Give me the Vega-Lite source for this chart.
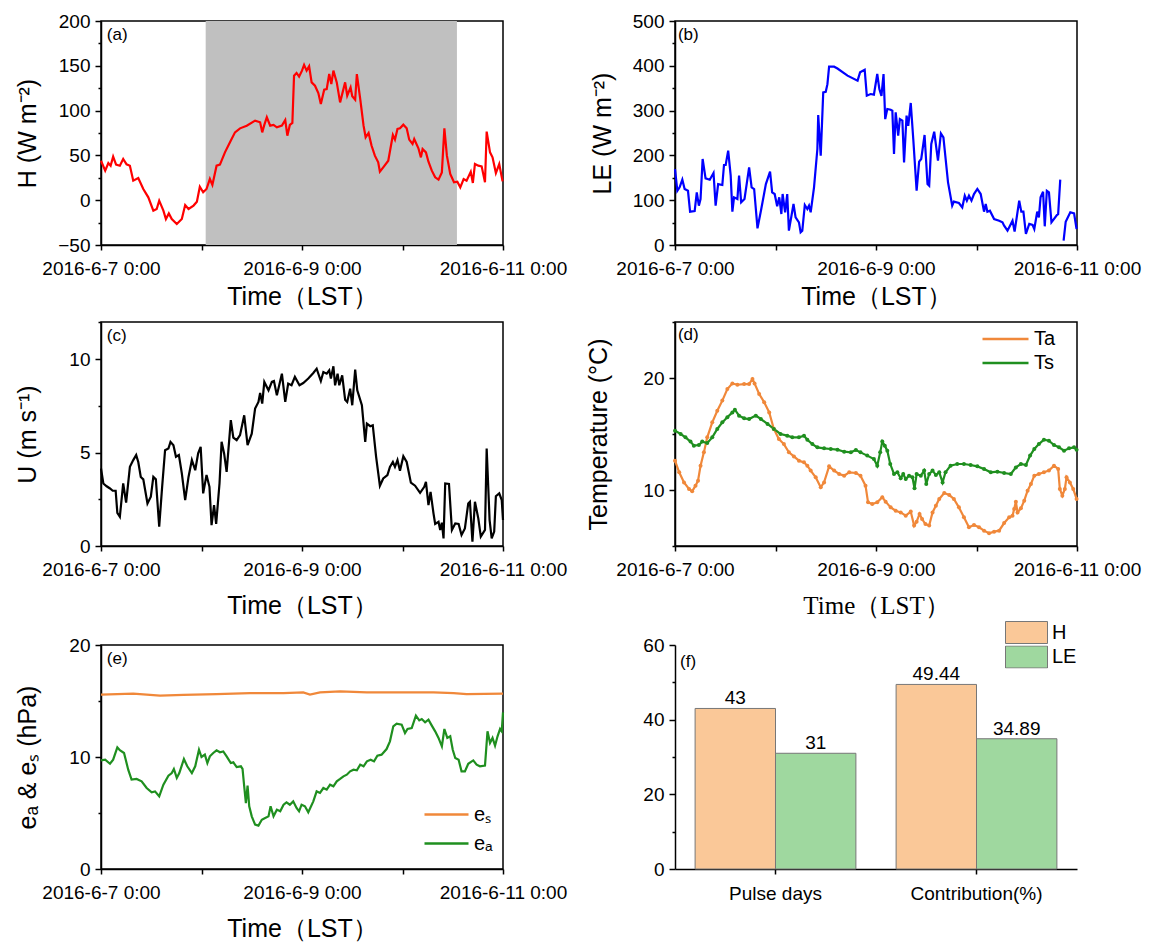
{
 "$schema": "https://vega.github.io/schema/vega-lite/v6.json",
 "padding": {"left": 14, "top": 11, "right": 0, "bottom": 0},
 "background": "white",
 "spacing": 2,
 "resolve": {"scale": {"color": "independent"}, "legend": {"color": "independent"}},
 "config": {
  "font": "Liberation Sans",
  "view": {"stroke": "black", "strokeWidth": 1.5},
  "axis": {"grid": false, "domainColor": "black", "domainWidth": 1.5, "tickColor": "black", "tickWidth": 1.5, "tickSize": 6, "labelColor": "black", "labelFontSize": 19, "labelFont": "Liberation Sans", "titleFont": "Liberation Sans", "titleFontSize": 25, "titleFontWeight": "normal", "titleColor": "black"},
  "axisY": {"labelPadding": 5},
  "axisX": {"labelPadding": 9, "tickSize": 5},
  "legend": {"labelFontSize": 20, "labelColor": "black", "labelFont": "Liberation Sans"}
 },
 "datasets": {
  "H": [{"t":0,"v":44},{"t":1,"v":33},{"t":1.75,"v":41.5},{"t":2.3,"v":38.5},{"t":2.9,"v":48.6},{"t":3.6,"v":39.7},{"t":4.5,"v":38.5},{"t":5.3,"v":46},{"t":6.1,"v":40},{"t":6.9,"v":38.5},{"t":7.7,"v":21.8},{"t":8.9,"v":24.8},{"t":10.1,"v":12.5},{"t":11.3,"v":3.2},{"t":12.5,"v":-11.7},{"t":13.3,"v":-9.8},{"t":13.9,"v":-0.5},{"t":14.9,"v":-11.7},{"t":15.5,"v":-21},{"t":16.2,"v":-14.7},{"t":16.9,"v":-21},{"t":18.1,"v":-26.6},{"t":19.3,"v":-21},{"t":20.1,"v":-5.4},{"t":20.9,"v":-9.8},{"t":22.1,"v":-6},{"t":22.9,"v":-1.6},{"t":23.6,"v":15},{"t":24.4,"v":8.8},{"t":25.2,"v":12.5},{"t":26,"v":23.7},{"t":26.6,"v":17},{"t":27.6,"v":38.5},{"t":28.4,"v":39.7},{"t":29.6,"v":53.4},{"t":30.8,"v":64.6},{"t":32,"v":75.7},{"t":33.2,"v":80.2},{"t":34.8,"v":83.2},{"t":36.8,"v":88.8},{"t":38,"v":87},{"t":38.5,"v":75.7},{"t":39,"v":84},{"t":39.6,"v":92.5},{"t":40.4,"v":83.2},{"t":41.2,"v":84},{"t":42,"v":81.3},{"t":43.2,"v":83.2},{"t":44,"v":89.5},{"t":44.5,"v":72},{"t":45.1,"v":84},{"t":45.7,"v":86.2},{"t":46.1,"v":139},{"t":46.7,"v":142},{"t":47.3,"v":138},{"t":48,"v":144.6},{"t":48.5,"v":151},{"t":49.1,"v":144.6},{"t":49.7,"v":149.4},{"t":50.3,"v":131.5},{"t":51.1,"v":127.8},{"t":51.9,"v":119.6},{"t":52.5,"v":107.4},{"t":53.3,"v":123.4},{"t":53.9,"v":124},{"t":54.5,"v":140.8},{"t":55,"v":129.7},{"t":55.5,"v":144.6},{"t":56.3,"v":131.5},{"t":57.1,"v":109.2},{"t":58.3,"v":131.5},{"t":58.8,"v":116.7},{"t":59.6,"v":126},{"t":60,"v":116},{"t":60.7,"v":112.2},{"t":61.1,"v":140.8},{"t":61.9,"v":113},{"t":62.7,"v":83.2},{"t":63.2,"v":70.2},{"t":63.9,"v":75},{"t":64.6,"v":61},{"t":65.4,"v":49.7},{"t":66.2,"v":42.3},{"t":66.6,"v":31.8},{"t":67.4,"v":36.7},{"t":68.6,"v":44.1},{"t":69.7,"v":72.8},{"t":70.2,"v":67.6},{"t":70.8,"v":79.5},{"t":71.4,"v":80.2},{"t":72.2,"v":84.3},{"t":73,"v":80.2},{"t":73.6,"v":67.6},{"t":74.4,"v":62.7},{"t":74.8,"v":68.3},{"t":75.8,"v":57.9},{"t":76.4,"v":47.8},{"t":76.8,"v":57.1},{"t":77.6,"v":53.4},{"t":78.2,"v":43},{"t":79,"v":33},{"t":79.8,"v":25.5},{"t":80.6,"v":22.9},{"t":81.4,"v":31},{"t":82,"v":80.2},{"t":82.6,"v":49.7},{"t":83.4,"v":29.2},{"t":84.3,"v":20},{"t":85.1,"v":20.7},{"t":85.8,"v":14.4},{"t":86.6,"v":23.7},{"t":87.3,"v":21.8},{"t":88.3,"v":31.8},{"t":88.8,"v":19.2},{"t":89.3,"v":40.4},{"t":90.1,"v":38.5},{"t":90.9,"v":37.8},{"t":91.7,"v":20},{"t":92.1,"v":76.5},{"t":92.9,"v":53.4},{"t":93.5,"v":47.8},{"t":94.3,"v":30.3},{"t":95.1,"v":40.4},{"t":95.9,"v":21}],
  "LE": [{"t":0,"v":169.6,"g":1},{"t":0.56,"v":121,"g":1},{"t":1.1,"v":128.7,"g":1},{"t":1.75,"v":145.8,"g":1},{"t":2.3,"v":125,"g":1},{"t":3.1,"v":121,"g":1},{"t":3.6,"v":74.4,"g":1},{"t":4.7,"v":75.9,"g":1},{"t":5.2,"v":117.6,"g":1},{"t":5.7,"v":87.8,"g":1},{"t":6.1,"v":102.7,"g":1},{"t":6.6,"v":192,"g":1},{"t":7.3,"v":148.8,"g":1},{"t":8.3,"v":145.8,"g":1},{"t":9.2,"v":160.7,"g":1},{"t":9.7,"v":87.8,"g":1},{"t":10.3,"v":136,"g":1},{"t":11.3,"v":134,"g":1},{"t":11.7,"v":178.6,"g":1},{"t":12.1,"v":178.6,"g":1},{"t":12.7,"v":210.6,"g":1},{"t":13.3,"v":154.8,"g":1},{"t":13.7,"v":74.4,"g":1},{"t":14.1,"v":106.4,"g":1},{"t":14.9,"v":102.7,"g":1},{"t":15.3,"v":154.8,"g":1},{"t":15.8,"v":95.2,"g":1},{"t":16.6,"v":102.7,"g":1},{"t":17.7,"v":173.4,"g":1},{"t":18.3,"v":128.7,"g":1},{"t":18.9,"v":125,"g":1},{"t":19.7,"v":37.2,"g":1},{"t":20.6,"v":80.4,"g":1},{"t":21.7,"v":136,"g":1},{"t":22.7,"v":163.7,"g":1},{"t":23.2,"v":117.6,"g":1},{"t":23.8,"v":113.8,"g":1},{"t":24.4,"v":86.3,"g":1},{"t":24.9,"v":106.4,"g":1},{"t":25.4,"v":69.2,"g":1},{"t":25.7,"v":113.8,"g":1},{"t":26.3,"v":73,"g":1},{"t":26.8,"v":113.8,"g":1},{"t":27.2,"v":32,"g":1},{"t":28.3,"v":91.5,"g":1},{"t":28.8,"v":61.8,"g":1},{"t":29.6,"v":50.6,"g":1},{"t":30,"v":28.3,"g":1},{"t":30.4,"v":32,"g":1},{"t":31,"v":89.3,"g":1},{"t":31.6,"v":80.4,"g":1},{"t":32,"v":87.8,"g":1},{"t":32.4,"v":73,"g":1},{"t":33.2,"v":128.7,"g":1},{"t":34,"v":214.3,"g":1},{"t":34.2,"v":290,"g":1},{"t":34.8,"v":199.4,"g":1},{"t":35.4,"v":340.8,"g":1},{"t":36,"v":342,"g":1},{"t":36.4,"v":359,"g":1},{"t":36.8,"v":398,"g":1},{"t":38,"v":398,"g":1},{"t":38.8,"v":394,"g":1},{"t":41.2,"v":378,"g":1},{"t":43.6,"v":366.8,"g":1},{"t":44.2,"v":385.4,"g":1},{"t":45.3,"v":391.3,"g":1},{"t":45.8,"v":333.3,"g":1},{"t":46.7,"v":337,"g":1},{"t":47.5,"v":335.5,"g":1},{"t":48.3,"v":381.7,"g":1},{"t":48.8,"v":348,"g":1},{"t":49.3,"v":333,"g":1},{"t":49.8,"v":381.7,"g":1},{"t":50.2,"v":281,"g":1},{"t":50.7,"v":303.6,"g":1},{"t":51.5,"v":302,"g":1},{"t":51.9,"v":299.8,"g":1},{"t":52.3,"v":203,"g":1},{"t":52.7,"v":296,"g":1},{"t":53.3,"v":244,"g":1},{"t":53.7,"v":281,"g":1},{"t":54.3,"v":277.5,"g":1},{"t":54.7,"v":184.5,"g":1},{"t":55.3,"v":288.7,"g":1},{"t":55.7,"v":266,"g":1},{"t":56.3,"v":317,"g":1},{"t":56.9,"v":236.6,"g":1},{"t":57.7,"v":121.3,"g":1},{"t":58.3,"v":186,"g":1},{"t":58.8,"v":192,"g":1},{"t":59.6,"v":245.5,"g":1},{"t":60.3,"v":136,"g":1},{"t":60.7,"v":132.4,"g":1},{"t":61.2,"v":225.4,"g":1},{"t":61.9,"v":253,"g":1},{"t":62.8,"v":188.2,"g":1},{"t":63.5,"v":249,"g":1},{"t":64.1,"v":240.3,"g":1},{"t":65.2,"v":139.9,"g":1},{"t":66.2,"v":87.8,"g":1},{"t":66.6,"v":96.7,"g":1},{"t":67.8,"v":93.7,"g":1},{"t":68.6,"v":84,"g":1},{"t":69.2,"v":110,"g":1},{"t":69.7,"v":99,"g":1},{"t":70.2,"v":110,"g":1},{"t":70.8,"v":99,"g":1},{"t":71.4,"v":113.8,"g":1},{"t":72.2,"v":125,"g":1},{"t":73,"v":113.8,"g":1},{"t":73.8,"v":74.4,"g":1},{"t":74.2,"v":91.5,"g":1},{"t":74.6,"v":74.4,"g":1},{"t":75.2,"v":76.6,"g":1},{"t":76.2,"v":58,"g":1},{"t":77.4,"v":54.3,"g":1},{"t":78.2,"v":50.6,"g":1},{"t":78.6,"v":43.2,"g":1},{"t":79.4,"v":32,"g":1},{"t":80,"v":43.2,"g":1},{"t":80.6,"v":54.3,"g":1},{"t":81.1,"v":29.8,"g":1},{"t":82.2,"v":99,"g":1},{"t":82.7,"v":74.4,"g":1},{"t":83.2,"v":74.4,"g":1},{"t":83.8,"v":24.6,"g":1},{"t":84.6,"v":46.9,"g":1},{"t":85.4,"v":44.6,"g":1},{"t":85.8,"v":35.7,"g":1},{"t":86.5,"v":74.4,"g":1},{"t":86.9,"v":61.8,"g":1},{"t":87.3,"v":106.4,"g":1},{"t":87.9,"v":119,"g":1},{"t":88.3,"v":41.7,"g":1},{"t":88.8,"v":121,"g":1},{"t":89.3,"v":117.6,"g":1},{"t":89.9,"v":50.6,"g":1},{"t":91.2,"v":67,"g":1},{"t":91.5,"v":69,"g":1},{"t":92,"v":145.8,"g":1},{"t":92.8,"v":9.7,"g":2},{"t":93.3,"v":52,"g":2},{"t":94.4,"v":73,"g":2},{"t":95.3,"v":70.7,"g":2},{"t":95.9,"v":35.7,"g":2}],
  "U": [{"t":0,"v":4.15},{"t":0.56,"v":3.35},{"t":1.35,"v":3.2},{"t":2.15,"v":3.08},{"t":2.8,"v":2.96},{"t":3.5,"v":2.96},{"t":3.9,"v":1.78},{"t":4.5,"v":1.57},{"t":5.3,"v":3.35},{"t":6,"v":2.32},{"t":6.9,"v":4.24},{"t":7.7,"v":4.6},{"t":8.4,"v":4.87},{"t":8.9,"v":4.5},{"t":9.5,"v":3.7},{"t":10.1,"v":3.57},{"t":11.1,"v":2.28},{"t":11.9,"v":2.64},{"t":12.5,"v":3.7},{"t":13.1,"v":3.57},{"t":13.9,"v":1.03},{"t":14.6,"v":3.17},{"t":15.3,"v":5.13},{"t":16.1,"v":5.22},{"t":16.6,"v":5.58},{"t":17.3,"v":5.4},{"t":17.9,"v":4.78},{"t":18.6,"v":4.87},{"t":19.3,"v":3.89},{"t":20.1,"v":2.46},{"t":20.9,"v":3.7},{"t":21.7,"v":4.6},{"t":22.5,"v":4.06},{"t":23.2,"v":4.96},{"t":23.8,"v":5.31},{"t":24.4,"v":2.82},{"t":25.2,"v":3.8},{"t":25.9,"v":3.17},{"t":26.4,"v":1.12},{"t":27,"v":2.19},{"t":27.5,"v":1.18},{"t":28.3,"v":3.35},{"t":28.8,"v":5.58},{"t":29.4,"v":4.96},{"t":30,"v":3.97},{"t":31,"v":6.74},{"t":31.6,"v":5.81},{"t":32.4,"v":5.67},{"t":33.2,"v":5.94},{"t":34.2,"v":7},{"t":35,"v":5.4},{"t":36,"v":6.02},{"t":36.8,"v":7.36},{"t":37.6,"v":7.72},{"t":38,"v":8.2},{"t":38.5,"v":7.63},{"t":39,"v":8.79},{"t":40,"v":8.34},{"t":40.8,"v":8.79},{"t":41.3,"v":8.84},{"t":42,"v":8.07},{"t":43.2,"v":9.23},{"t":44,"v":7.72},{"t":44.7,"v":8.7},{"t":45.5,"v":8.61},{"t":46.3,"v":9.06},{"t":47.4,"v":8.61},{"t":48.3,"v":8.73},{"t":49.5,"v":8.97},{"t":50.7,"v":9.27},{"t":51.5,"v":9.5},{"t":52.5,"v":8.84},{"t":53.1,"v":9.32},{"t":53.9,"v":9.23},{"t":54.5,"v":9.41},{"t":54.9,"v":8.97},{"t":55.5,"v":9.63},{"t":55.9,"v":8.61},{"t":56.5,"v":9.23},{"t":56.9,"v":8.61},{"t":57.6,"v":9.14},{"t":58.3,"v":7.84},{"t":58.8,"v":7.72},{"t":59.5,"v":8.43},{"t":60,"v":7.54},{"t":60.7,"v":9.45},{"t":61.2,"v":8.34},{"t":62.3,"v":7.54},{"t":63.1,"v":5.58},{"t":63.5,"v":6.56},{"t":64.3,"v":6.42},{"t":64.9,"v":6.47},{"t":65.7,"v":4.78},{"t":66.6,"v":3.23},{"t":67.4,"v":3.62},{"t":68.4,"v":3.8},{"t":69,"v":4.24},{"t":69.7,"v":4.5},{"t":70.2,"v":4.24},{"t":70.8,"v":4.6},{"t":71.4,"v":4.03},{"t":72.2,"v":4.81},{"t":73,"v":4.5},{"t":74,"v":3.39},{"t":75,"v":3.23},{"t":76.2,"v":2.85},{"t":77.2,"v":3.17},{"t":77.6,"v":3.44},{"t":78.2,"v":2.19},{"t":78.7,"v":2.9},{"t":79.4,"v":1.75},{"t":79.8,"v":1.18},{"t":80.6,"v":1.3},{"t":81,"v":0.86},{"t":81.4,"v":1.25},{"t":81.8,"v":0.41},{"t":82.2,"v":3.35},{"t":83.1,"v":3.32},{"t":83.8,"v":0.86},{"t":84.6,"v":1.21},{"t":85.4,"v":1.18},{"t":86.1,"v":0.59},{"t":86.9,"v":0.94},{"t":87.7,"v":2.28},{"t":88.1,"v":2.37},{"t":88.7,"v":0.23},{"t":89.3,"v":2.37},{"t":90.1,"v":1.48},{"t":90.7,"v":0.5},{"t":91.7,"v":0.86},{"t":92.1,"v":5.22},{"t":92.8,"v":1.39},{"t":93.3,"v":0.41},{"t":93.9,"v":0.77},{"t":94.3,"v":2.67},{"t":95.1,"v":2.82},{"t":95.7,"v":2.46},{"t":96,"v":1.39}],
  "T": [{"s":"Ta","t":0,"v":12.62},{"s":"Ta","t":1,"v":11.58},{"s":"Ta","t":2.15,"v":10.68},{"s":"Ta","t":3.35,"v":10.09},{"s":"Ta","t":4.1,"v":9.88},{"s":"Ta","t":4.9,"v":10.39},{"s":"Ta","t":5.5,"v":10.83},{"s":"Ta","t":6.1,"v":12.17},{"s":"Ta","t":6.9,"v":13.36},{"s":"Ta","t":7.7,"v":14.7},{"s":"Ta","t":8.9,"v":16.04},{"s":"Ta","t":10.1,"v":17.08},{"s":"Ta","t":11.3,"v":17.98},{"s":"Ta","t":12.5,"v":19.02},{"s":"Ta","t":13.7,"v":19.52},{"s":"Ta","t":14.9,"v":19.4},{"s":"Ta","t":16.5,"v":19.46},{"s":"Ta","t":17.7,"v":19.46},{"s":"Ta","t":18.5,"v":19.91},{"s":"Ta","t":19,"v":19.52},{"s":"Ta","t":20.1,"v":18.57},{"s":"Ta","t":21.3,"v":17.83},{"s":"Ta","t":22.5,"v":16.93},{"s":"Ta","t":23.6,"v":15.45},{"s":"Ta","t":24.8,"v":14.55},{"s":"Ta","t":26,"v":14.1},{"s":"Ta","t":27.2,"v":13.36},{"s":"Ta","t":28.4,"v":13},{"s":"Ta","t":29.6,"v":12.62},{"s":"Ta","t":30.8,"v":12.47},{"s":"Ta","t":31.6,"v":12.17},{"s":"Ta","t":32.4,"v":11.73},{"s":"Ta","t":33.6,"v":11.13},{"s":"Ta","t":34.8,"v":10.24},{"s":"Ta","t":35.6,"v":10.68},{"s":"Ta","t":36.8,"v":12.11},{"s":"Ta","t":38,"v":11.73},{"s":"Ta","t":39.2,"v":11.43},{"s":"Ta","t":40.4,"v":11.28},{"s":"Ta","t":41.6,"v":11.58},{"s":"Ta","t":43.2,"v":11.52},{"s":"Ta","t":44.3,"v":11.28},{"s":"Ta","t":45.5,"v":10.39},{"s":"Ta","t":46.1,"v":8.9},{"s":"Ta","t":47.1,"v":8.75},{"s":"Ta","t":48.3,"v":8.9},{"s":"Ta","t":49.5,"v":9.35},{"s":"Ta","t":50.3,"v":8.96},{"s":"Ta","t":51.5,"v":8.45},{"s":"Ta","t":52.7,"v":8.15},{"s":"Ta","t":53.9,"v":8},{"s":"Ta","t":55.1,"v":7.71},{"s":"Ta","t":56.3,"v":8.07},{"s":"Ta","t":57.1,"v":6.82},{"s":"Ta","t":57.7,"v":7.17},{"s":"Ta","t":58.4,"v":7.86},{"s":"Ta","t":59,"v":7.41},{"s":"Ta","t":59.8,"v":6.96},{"s":"Ta","t":60.7,"v":6.82},{"s":"Ta","t":61.5,"v":8},{"s":"Ta","t":62.3,"v":8.6},{"s":"Ta","t":63.1,"v":9.2},{"s":"Ta","t":64.3,"v":9.73},{"s":"Ta","t":65.5,"v":9.55},{"s":"Ta","t":66.6,"v":9.2},{"s":"Ta","t":67.8,"v":8.45},{"s":"Ta","t":69,"v":7.56},{"s":"Ta","t":70.2,"v":6.67},{"s":"Ta","t":71.4,"v":6.88},{"s":"Ta","t":72.6,"v":6.67},{"s":"Ta","t":73.8,"v":6.37},{"s":"Ta","t":75,"v":6.13},{"s":"Ta","t":76.2,"v":6.28},{"s":"Ta","t":77.4,"v":6.37},{"s":"Ta","t":78.6,"v":7.05},{"s":"Ta","t":79.8,"v":7.56},{"s":"Ta","t":80.6,"v":7.71},{"s":"Ta","t":81,"v":8.3},{"s":"Ta","t":81.4,"v":8.96},{"s":"Ta","t":81.8,"v":8},{"s":"Ta","t":82.6,"v":8.36},{"s":"Ta","t":83.4,"v":9.05},{"s":"Ta","t":84.2,"v":9.94},{"s":"Ta","t":85,"v":10.54},{"s":"Ta","t":85.8,"v":11.28},{"s":"Ta","t":86.9,"v":11.43},{"s":"Ta","t":88.1,"v":11.58},{"s":"Ta","t":89.3,"v":11.73},{"s":"Ta","t":90.5,"v":12.17},{"s":"Ta","t":91.5,"v":11.88},{"s":"Ta","t":91.9,"v":10.09},{"s":"Ta","t":92.5,"v":9.49},{"s":"Ta","t":93.1,"v":10.09},{"s":"Ta","t":93.5,"v":11.13},{"s":"Ta","t":94.3,"v":10.68},{"s":"Ta","t":95.1,"v":10.09},{"s":"Ta","t":95.9,"v":9.2},
        {"s":"Ts","t":0,"v":15.3},{"s":"Ts","t":1.35,"v":15},{"s":"Ts","t":2.5,"v":14.7},{"s":"Ts","t":3.7,"v":14.32},{"s":"Ts","t":4.5,"v":13.96},{"s":"Ts","t":5.7,"v":14.02},{"s":"Ts","t":6.5,"v":14.32},{"s":"Ts","t":7.7,"v":14.2},{"s":"Ts","t":8.9,"v":14.7},{"s":"Ts","t":10.1,"v":15.45},{"s":"Ts","t":11.3,"v":16.04},{"s":"Ts","t":12.5,"v":16.49},{"s":"Ts","t":13.7,"v":16.93},{"s":"Ts","t":14.3,"v":17.17},{"s":"Ts","t":15.3,"v":16.64},{"s":"Ts","t":16.5,"v":16.4},{"s":"Ts","t":17.7,"v":16.34},{"s":"Ts","t":19.3,"v":16.64},{"s":"Ts","t":20.5,"v":16.34},{"s":"Ts","t":22.1,"v":15.9},{"s":"Ts","t":23.6,"v":15.45},{"s":"Ts","t":25.2,"v":15},{"s":"Ts","t":26.8,"v":14.85},{"s":"Ts","t":28,"v":14.7},{"s":"Ts","t":29.6,"v":14.7},{"s":"Ts","t":30.8,"v":14.85},{"s":"Ts","t":31.6,"v":14.49},{"s":"Ts","t":32.8,"v":14.1},{"s":"Ts","t":34,"v":13.81},{"s":"Ts","t":35.6,"v":13.72},{"s":"Ts","t":37.2,"v":13.66},{"s":"Ts","t":38.8,"v":13.6},{"s":"Ts","t":40.4,"v":13.42},{"s":"Ts","t":42,"v":13.36},{"s":"Ts","t":43.2,"v":13.57},{"s":"Ts","t":44.3,"v":13.36},{"s":"Ts","t":45.9,"v":13.07},{"s":"Ts","t":47.5,"v":12.77},{"s":"Ts","t":48.3,"v":12.17},{"s":"Ts","t":49,"v":13.36},{"s":"Ts","t":49.5,"v":14.32},{"s":"Ts","t":50.1,"v":13.96},{"s":"Ts","t":50.7,"v":13.51},{"s":"Ts","t":51.4,"v":12.32},{"s":"Ts","t":52.3,"v":11.43},{"s":"Ts","t":53.1,"v":11.58},{"s":"Ts","t":53.9,"v":11.04},{"s":"Ts","t":54.5,"v":11.43},{"s":"Ts","t":55.1,"v":10.98},{"s":"Ts","t":55.9,"v":11.28},{"s":"Ts","t":56.7,"v":11.13},{"s":"Ts","t":57.2,"v":10.15},{"s":"Ts","t":57.7,"v":11.43},{"s":"Ts","t":58.7,"v":11.28},{"s":"Ts","t":59.5,"v":11.73},{"s":"Ts","t":60,"v":10.54},{"s":"Ts","t":60.7,"v":11.43},{"s":"Ts","t":61.5,"v":11.73},{"s":"Ts","t":62.3,"v":11.34},{"s":"Ts","t":63.1,"v":11.58},{"s":"Ts","t":63.9,"v":10.68},{"s":"Ts","t":64.6,"v":11.58},{"s":"Ts","t":65.8,"v":12.17},{"s":"Ts","t":67.4,"v":12.32},{"s":"Ts","t":69,"v":12.32},{"s":"Ts","t":70.6,"v":12.23},{"s":"Ts","t":72.2,"v":12.11},{"s":"Ts","t":73.8,"v":11.88},{"s":"Ts","t":75.4,"v":11.58},{"s":"Ts","t":77,"v":11.64},{"s":"Ts","t":78.6,"v":11.52},{"s":"Ts","t":80.2,"v":11.43},{"s":"Ts","t":81.4,"v":12.02},{"s":"Ts","t":82.6,"v":12.32},{"s":"Ts","t":83.8,"v":12.23},{"s":"Ts","t":84.8,"v":13.07},{"s":"Ts","t":85.8,"v":13.66},{"s":"Ts","t":86.9,"v":14.1},{"s":"Ts","t":88.1,"v":14.49},{"s":"Ts","t":89.3,"v":14.4},{"s":"Ts","t":90.5,"v":14.02},{"s":"Ts","t":91.7,"v":13.81},{"s":"Ts","t":92.9,"v":13.51},{"s":"Ts","t":94.1,"v":13.72},{"s":"Ts","t":95.3,"v":13.81},{"s":"Ts","t":95.9,"v":13.6}],
  "E": [{"s":"eₛ","t":0,"v":15.57},{"s":"eₛ","t":7.7,"v":15.65},{"s":"eₛ","t":14.1,"v":15.48},{"s":"eₛ","t":19.7,"v":15.54},{"s":"eₛ","t":27.6,"v":15.62},{"s":"eₛ","t":35.6,"v":15.71},{"s":"eₛ","t":43.6,"v":15.71},{"s":"eₛ","t":48.3,"v":15.77},{"s":"eₛ","t":49.9,"v":15.57},{"s":"eₛ","t":52.3,"v":15.77},{"s":"eₛ","t":57.1,"v":15.86},{"s":"eₛ","t":63.5,"v":15.77},{"s":"eₛ","t":71.4,"v":15.77},{"s":"eₛ","t":79.4,"v":15.77},{"s":"eₛ","t":84.2,"v":15.71},{"s":"eₛ","t":87.3,"v":15.62},{"s":"eₛ","t":96,"v":15.65},
        {"s":"eₐ","t":0,"v":9.7},{"s":"eₐ","t":1,"v":9.76},{"s":"eₐ","t":2.15,"v":9.4},{"s":"eₐ","t":2.9,"v":9.76},{"s":"eₐ","t":3.9,"v":10.86},{"s":"eₐ","t":4.5,"v":10.6},{"s":"eₐ","t":5.5,"v":10.36},{"s":"eₐ","t":6.5,"v":8.87},{"s":"eₐ","t":7.3,"v":7.98},{"s":"eₐ","t":8.5,"v":8.04},{"s":"eₐ","t":9.7,"v":7.83},{"s":"eₐ","t":10.9,"v":7.23},{"s":"eₐ","t":12.1,"v":6.85},{"s":"eₐ","t":12.9,"v":6.93},{"s":"eₐ","t":13.9,"v":6.49},{"s":"eₐ","t":14.9,"v":7.53},{"s":"eₐ","t":16.1,"v":8.33},{"s":"eₐ","t":16.9,"v":8.57},{"s":"eₐ","t":17.4,"v":8.93},{"s":"eₐ","t":18.1,"v":8.13},{"s":"eₐ","t":18.7,"v":8.57},{"s":"eₐ","t":19.8,"v":9.82},{"s":"eₐ","t":20.6,"v":9.17},{"s":"eₐ","t":21.7,"v":8.57},{"s":"eₐ","t":22.5,"v":9.17},{"s":"eₐ","t":23.4,"v":10.65},{"s":"eₐ","t":24,"v":10},{"s":"eₐ","t":24.8,"v":10.21},{"s":"eₐ","t":25.4,"v":9.46},{"s":"eₐ","t":26,"v":10.06},{"s":"eₐ","t":26.8,"v":10.36},{"s":"eₐ","t":27.6,"v":10.6},{"s":"eₐ","t":28.4,"v":10.42},{"s":"eₐ","t":29.2,"v":10.5},{"s":"eₐ","t":30,"v":10.06},{"s":"eₐ","t":31,"v":9.46},{"s":"eₐ","t":31.6,"v":9.52},{"s":"eₐ","t":32.4,"v":9.1},{"s":"eₐ","t":33.4,"v":9.17},{"s":"eₐ","t":33.8,"v":8.93},{"s":"eₐ","t":34.2,"v":7.38},{"s":"eₐ","t":34.6,"v":5.89},{"s":"eₐ","t":35,"v":7.44},{"s":"eₐ","t":35.4,"v":5.6},{"s":"eₐ","t":36,"v":4.7},{"s":"eₐ","t":36.8,"v":3.96},{"s":"eₐ","t":37.6,"v":3.87},{"s":"eₐ","t":38.4,"v":4.4},{"s":"eₐ","t":39.2,"v":4.55},{"s":"eₐ","t":40,"v":4.7},{"s":"eₐ","t":40.5,"v":5.6},{"s":"eₐ","t":41.2,"v":4.7},{"s":"eₐ","t":42,"v":5.3},{"s":"eₐ","t":42.8,"v":5.15},{"s":"eₐ","t":43.6,"v":5.74},{"s":"eₐ","t":44.3,"v":5.95},{"s":"eₐ","t":45.1,"v":5.74},{"s":"eₐ","t":45.9,"v":6.04},{"s":"eₐ","t":46.7,"v":5.45},{"s":"eₐ","t":47.3,"v":5.15},{"s":"eₐ","t":47.9,"v":5.74},{"s":"eₐ","t":48.7,"v":5.6},{"s":"eₐ","t":49.5,"v":5.06},{"s":"eₐ","t":50.7,"v":6.04},{"s":"eₐ","t":51.5,"v":6.93},{"s":"eₐ","t":52.3,"v":6.79},{"s":"eₐ","t":53.1,"v":7.23},{"s":"eₐ","t":53.9,"v":7.08},{"s":"eₐ","t":54.7,"v":7.53},{"s":"eₐ","t":55.5,"v":7.38},{"s":"eₐ","t":56.3,"v":7.83},{"s":"eₐ","t":57.1,"v":8.04},{"s":"eₐ","t":57.9,"v":8.27},{"s":"eₐ","t":58.7,"v":8.42},{"s":"eₐ","t":59.5,"v":8.72},{"s":"eₐ","t":60.3,"v":8.87},{"s":"eₐ","t":61.1,"v":8.81},{"s":"eₐ","t":61.9,"v":9.32},{"s":"eₐ","t":62.7,"v":9.17},{"s":"eₐ","t":63.5,"v":9.61},{"s":"eₐ","t":64.4,"v":9.76},{"s":"eₐ","t":65.2,"v":9.61},{"s":"eₐ","t":66,"v":10.12},{"s":"eₐ","t":67,"v":10.21},{"s":"eₐ","t":68.2,"v":10.71},{"s":"eₐ","t":69,"v":11.4},{"s":"eₐ","t":69.8,"v":12.74},{"s":"eₐ","t":70.6,"v":12.98},{"s":"eₐ","t":71.8,"v":12.89},{"s":"eₐ","t":72.6,"v":12.14},{"s":"eₐ","t":73.2,"v":12.5},{"s":"eₐ","t":74.2,"v":12.59},{"s":"eₐ","t":75.2,"v":13.69},{"s":"eₐ","t":76,"v":13.27},{"s":"eₐ","t":76.6,"v":13.39},{"s":"eₐ","t":77.4,"v":13.1},{"s":"eₐ","t":78.2,"v":13.33},{"s":"eₐ","t":79,"v":12.8},{"s":"eₐ","t":79.8,"v":12.29},{"s":"eₐ","t":80.6,"v":11.7},{"s":"eₐ","t":81.4,"v":10.95},{"s":"eₐ","t":82,"v":12.5},{"s":"eₐ","t":82.7,"v":11.7},{"s":"eₐ","t":83.4,"v":11.85},{"s":"eₐ","t":84,"v":10.65},{"s":"eₐ","t":84.6,"v":9.91},{"s":"eₐ","t":85.4,"v":9.76},{"s":"eₐ","t":86.1,"v":8.72},{"s":"eₐ","t":86.9,"v":8.72},{"s":"eₐ","t":87.7,"v":9.4},{"s":"eₐ","t":88.9,"v":9.7},{"s":"eₐ","t":89.7,"v":9.32},{"s":"eₐ","t":90.5,"v":9.17},{"s":"eₐ","t":91.7,"v":9.23},{"s":"eₐ","t":92.3,"v":12.29},{"s":"eₐ","t":92.9,"v":11.25},{"s":"eₐ","t":93.5,"v":11.7},{"s":"eₐ","t":94.1,"v":11.01},{"s":"eₐ","t":94.7,"v":11.85},{"s":"eₐ","t":95.3,"v":12.5},{"s":"eₐ","t":95.7,"v":12.29},{"s":"eₐ","t":96,"v":13.99}],
  "B": [{"cat":"Pulse days","ser":"H","val":43,"lab":"43"},{"cat":"Pulse days","ser":"LE","val":31,"lab":"31"},{"cat":"Contribution(%)","ser":"H","val":49.44,"lab":"49.44"},{"cat":"Contribution(%)","ser":"LE","val":34.89,"lab":"34.89"}]
 },
 "vconcat": [
  {"hconcat": [
   {"width": 402, "height": 224,
    "encoding": {
     "x": {"field": "t", "type": "quantitative", "scale": {"domain": [0, 96], "nice": false, "zero": false}, "axis": {"values": [0, 24, 48, 72, 96], "labelExpr": "datum.value==0?'2016-6-7 0:00':datum.value==48?'2016-6-9 0:00':datum.value==96?'2016-6-11 0:00':''", "labelOverlap": false, "labelFlush": false, "title": "Time（LST）", "titleY": 59, "titleBaseline": "alphabetic"}},
     "y": {"field": "v", "type": "quantitative", "scale": {"domain": [-50, 200], "nice": false, "zero": false}, "axis": {"values": [-50, 0, 50, 100, 150, 200], "title": "H (W m⁻²)", "titleX": -66, "titleY": 112, "titleBaseline": "alphabetic"}}
    },
    "resolve": {"axis": {"y": "independent"}},
    "layer": [
     {"data": {"values": [{"t": 25, "t2": 85, "v": 200, "v2": -50}]}, "mark": {"type": "rect", "color": "#c0c0c0"}, "encoding": {"x2": {"field": "t2"}, "y": {"field": "v", "type": "quantitative", "axis": null}, "y2": {"field": "v2"}}},
     {"data": {"name": "H"}, "mark": {"type": "line", "color": "#ff0000", "strokeWidth": 2.2}, "encoding": {}},
     {"data": {"values": [{"t": 1.4, "v": 184, "lab": "(a)"}]}, "mark": {"type": "text", "align": "left", "baseline": "middle", "fontSize": 17}, "encoding": {"text": {"field": "lab"}, "y": {"field": "v", "type": "quantitative", "axis": {"orient": "left", "values": [-25, 25, 75, 125, 175], "labels": false, "domain": false, "tickSize": 3, "title": null}}}}
    ]
   },
   {"width": 402, "height": 224,
    "encoding": {
     "x": {"field": "t", "type": "quantitative", "scale": {"domain": [0, 96], "nice": false, "zero": false}, "axis": {"values": [0, 24, 48, 72, 96], "labelExpr": "datum.value==0?'2016-6-7 0:00':datum.value==48?'2016-6-9 0:00':datum.value==96?'2016-6-11 0:00':''", "labelOverlap": false, "labelFlush": false, "title": "Time（LST）", "titleY": 59, "titleBaseline": "alphabetic"}},
     "y": {"field": "v", "type": "quantitative", "scale": {"domain": [0, 500], "nice": false, "zero": false}, "axis": {"values": [0, 100, 200, 300, 400, 500], "title": "LE (W m⁻²)", "titleX": -65, "titleY": 112, "titleBaseline": "alphabetic"}}
    },
    "resolve": {"axis": {"y": "independent"}},
    "layer": [
     {"data": {"name": "LE"}, "mark": {"type": "line", "color": "#0000ff", "strokeWidth": 2.2}, "encoding": {"detail": {"field": "g"}}},
     {"data": {"values": [{"t": 0.7, "v": 469, "lab": "(b)"}]}, "mark": {"type": "text", "align": "left", "baseline": "middle", "fontSize": 17}, "encoding": {"text": {"field": "lab"}, "y": {"field": "v", "type": "quantitative", "axis": {"orient": "left", "values": [50, 150, 250, 350, 450], "labels": false, "domain": false, "tickSize": 3, "title": null}}}}
    ]
   }
  ], "spacing": 172, "bounds": "flush", "resolve": {"scale": {"color": "independent"}, "legend": {"color": "independent"}}},
  {"hconcat": [
   {"width": 402, "height": 224,
    "title": {"text": " ", "fontSize": 1, "offset": 7},
    "encoding": {
     "x": {"field": "t", "type": "quantitative", "scale": {"domain": [0, 96], "nice": false, "zero": false}, "axis": {"values": [0, 24, 48, 72, 96], "labelExpr": "datum.value==0?'2016-6-7 0:00':datum.value==48?'2016-6-9 0:00':datum.value==96?'2016-6-11 0:00':''", "labelOverlap": false, "labelFlush": false, "title": "Time（LST）", "titleY": 67, "titleBaseline": "alphabetic"}},
     "y": {"field": "v", "type": "quantitative", "scale": {"domain": [0, 12], "nice": false, "zero": false}, "axis": {"values": [0, 5, 10], "title": "U (m s⁻¹)", "titleX": -66, "titleY": 112, "titleBaseline": "alphabetic"}}
    },
    "resolve": {"axis": {"y": "independent"}},
    "layer": [
     {"data": {"name": "U"}, "mark": {"type": "line", "color": "#000000", "strokeWidth": 2.2}, "encoding": {}},
     {"data": {"values": [{"t": 1.4, "v": 11.25, "lab": "(c)"}]}, "mark": {"type": "text", "align": "left", "baseline": "middle", "fontSize": 17}, "encoding": {"text": {"field": "lab"}, "y": {"field": "v", "type": "quantitative", "axis": {"orient": "left", "values": [2.5, 7.5, 12], "labels": false, "domain": false, "tickSize": 3, "title": null}}}}
    ]
   },
   {"width": 402, "height": 224,
    "encoding": {
     "x": {"field": "t", "type": "quantitative", "scale": {"domain": [0, 96], "nice": false, "zero": false}, "axis": {"values": [0, 24, 48, 72, 96], "labelExpr": "datum.value==0?'2016-6-7 0:00':datum.value==48?'2016-6-9 0:00':datum.value==96?'2016-6-11 0:00':''", "labelOverlap": false, "labelFlush": false, "title": "Time（LST）", "titleY": 67, "titleBaseline": "alphabetic", "titleFont": "Liberation Serif"}},
     "y": {"field": "v", "type": "quantitative", "scale": {"domain": [5, 25], "nice": false, "zero": false}, "axis": {"values": [10, 20], "title": "Temperature (°C)", "titleX": -69, "titleY": 112, "titleBaseline": "alphabetic"}}
    },
    "resolve": {"axis": {"y": "independent"}},
    "layer": [
     {"data": {"name": "T"}, "mark": {"type": "line", "strokeWidth": 2.2, "point": {"filled": true, "size": 16}}, "encoding": {"color": {"field": "s", "type": "nominal", "scale": {"domain": ["Ta", "Ts"], "range": ["#f0883a", "#1f8f1f"]}, "legend": {"orient": "none", "legendX": 306, "legendY": 6, "title": null, "symbolType": "stroke", "symbolSize": 2116, "symbolStrokeWidth": 2.5, "clipHeight": 22, "rowPadding": 2, "labelFontSize": 20}}}},
     {"data": {"values": [{"t": 0.7, "v": 23.84, "lab": "(d)"}]}, "mark": {"type": "text", "align": "left", "baseline": "middle", "fontSize": 17}, "encoding": {"text": {"field": "lab"}, "y": {"field": "v", "type": "quantitative", "axis": {"orient": "left", "values": [5, 15, 25], "labels": false, "domain": false, "tickSize": 3, "title": null}}}}
    ]
   }
  ], "spacing": 172, "bounds": "flush", "resolve": {"scale": {"color": "independent"}, "legend": {"color": "independent"}}},
  {"hconcat": [
   {"width": 402, "height": 224,
    "encoding": {
     "x": {"field": "t", "type": "quantitative", "scale": {"domain": [0, 96], "nice": false, "zero": false}, "axis": {"values": [0, 24, 48, 72, 96], "labelExpr": "datum.value==0?'2016-6-7 0:00':datum.value==48?'2016-6-9 0:00':datum.value==96?'2016-6-11 0:00':''", "labelOverlap": false, "labelFlush": false, "title": "Time（LST）", "titleY": 67, "titleBaseline": "alphabetic"}},
     "y": {"field": "v", "type": "quantitative", "scale": {"domain": [0, 20], "nice": false, "zero": false}, "axis": {"values": [0, 10, 20], "title": "eₐ & eₛ (hPa)", "titleX": -66, "titleY": 112, "titleBaseline": "alphabetic"}}
    },
    "resolve": {"axis": {"y": "independent"}},
    "layer": [
     {"data": {"name": "E"}, "mark": {"type": "line", "strokeWidth": 2.2}, "encoding": {"color": {"field": "s", "type": "nominal", "scale": {"domain": ["eₛ", "eₐ"], "range": ["#f0883a", "#1f8f1f"]}, "legend": {"orient": "none", "legendX": 322, "legendY": 156, "title": null, "symbolType": "stroke", "symbolSize": 1936, "symbolStrokeWidth": 2.5, "clipHeight": 27, "rowPadding": 2, "labelFontSize": 20}}}},
     {"data": {"values": [{"t": 1.4, "v": 18.75, "lab": "(e)"}]}, "mark": {"type": "text", "align": "left", "baseline": "middle", "fontSize": 17}, "encoding": {"text": {"field": "lab"}, "y": {"field": "v", "type": "quantitative", "axis": {"orient": "left", "values": [5, 15], "labels": false, "domain": false, "tickSize": 3, "title": null}}}}
    ]
   },
   {"width": 402, "height": 224,
    "view": {"stroke": null},
    "data": {"name": "B"},
    "encoding": {
     "x": {"field": "cat", "type": "nominal", "sort": ["Pulse days", "Contribution(%)"], "scale": {"paddingInner": 0.2, "paddingOuter": 0.1}, "axis": {"title": null, "labelAngle": 0, "labelPadding": 10}},
     "y": {"field": "val", "type": "quantitative", "scale": {"domain": [0, 60], "nice": false}, "axis": {"values": [0, 20, 40, 60], "title": null}}
    },
    "resolve": {"axis": {"y": "independent"}},
    "layer": [
     {"mark": {"type": "bar", "stroke": "#777777", "strokeWidth": 1}, "encoding": {"xOffset": {"field": "ser", "type": "nominal", "sort": ["H", "LE"], "scale": {"paddingInner": 0, "paddingOuter": 0}}, "color": {"field": "ser", "type": "nominal", "scale": {"domain": ["H", "LE"], "range": ["#fac898", "#9fd89f"]}, "legend": {"orient": "none", "legendX": 330, "legendY": -24, "title": null, "symbolType": "M-1,-0.524L1,-0.524L1,0.524L-1,0.524Z", "symbolSize": 1764, "symbolStrokeColor": "#777777", "symbolStrokeWidth": 1, "clipHeight": 23, "rowPadding": 1.5, "labelFontSize": 20}}}},
     {"mark": {"type": "text", "baseline": "alphabetic", "dy": -4, "fontSize": 19}, "encoding": {"xOffset": {"field": "ser", "type": "nominal", "sort": ["H", "LE"]}, "text": {"field": "lab"}, "y": {"field": "val", "type": "quantitative", "axis": null}}},
     {"data": {"values": [{"cat": "Pulse days", "val": 55.4, "lab": "(f)"}]}, "mark": {"type": "text", "align": "left", "baseline": "middle", "fontSize": 17, "dx": -15}, "encoding": {"x": {"field": "cat", "type": "nominal", "bandPosition": 0, "sort": ["Pulse days", "Contribution(%)"]}, "text": {"field": "lab"}, "y": {"field": "val", "type": "quantitative", "axis": {"orient": "left", "values": [10, 30, 50], "labels": false, "domain": false, "tickSize": 3, "title": null}}}}
    ]
   }
  ], "spacing": 172, "bounds": "flush", "resolve": {"scale": {"color": "independent"}, "legend": {"color": "independent"}}}
 ]
}
